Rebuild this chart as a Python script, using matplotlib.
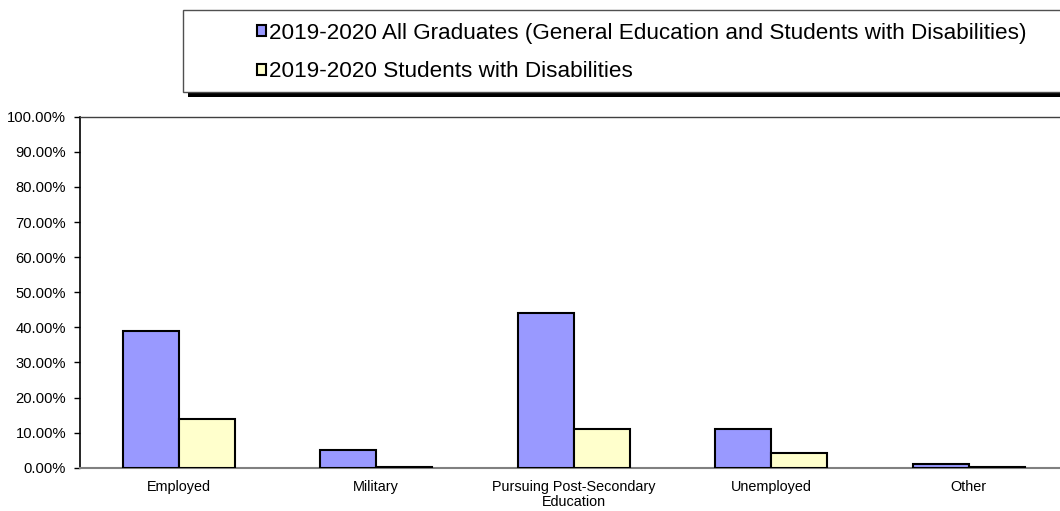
import matplotlib
matplotlib.use("Agg")
import matplotlib.pyplot as plt
from matplotlib.patches import Rectangle, Patch
from matplotlib.ticker import PercentFormatter, MultipleLocator
import numpy as np

plt.rcParams["font.family"] = ["Liberation Sans", "DejaVu Sans"]

# --- dados ---
categorias = ["Employed", "Military", "Pursuing Post-Secondary\nEducation", "Unemployed", "Other"]
todos = [39.0, 5.0, 44.0, 11.0, 1.0]
deficiencia = [14.0, 0.3, 11.0, 4.2, 0.3]
rotulos = ["2019-2020 All Graduates (General Education and Students with Disabilities)",
           "2019-2020 Students with Disabilities"]
cor_azul = "#9999FF"
cor_amarela = "#FFFFCC"

W, H = 1060, 511
fig = plt.figure(figsize=(W / 100, H / 100), dpi=100)
ax = fig.add_axes([80 / W, (H - 467.7) / H, 987.5 / W, 351 / H])

x = np.arange(len(categorias))
larg = 0.284
ax.bar(x - larg / 2, todos, larg, color=cor_azul, edgecolor="black", linewidth=1.5, zorder=3)
ax.bar(x + larg / 2, deficiencia, larg, color=cor_amarela, edgecolor="black", linewidth=1.5, zorder=3)

ax.set_xlim(-0.5, len(categorias) - 0.5)
ax.set_ylim(0, 100)
ax.yaxis.set_major_locator(MultipleLocator(10))
ax.yaxis.set_major_formatter(PercentFormatter(xmax=100, decimals=2))
ax.set_xticks(x)
ax.set_xticklabels(categorias, fontsize=10.4, linespacing=1.1)
ax.tick_params(axis="x", length=0, pad=9)
ax.tick_params(axis="y", length=4, width=1, pad=6, labelsize=10.6, direction="out")

ax.spines["left"].set_color("black")
ax.spines["left"].set_linewidth(1.2)
ax.spines["bottom"].set_color("#808080")
ax.spines["bottom"].set_linewidth(1.5)
ax.spines["top"].set_color("#404040")
ax.spines["top"].set_linewidth(1.0)
ax.spines["right"].set_visible(False)

# --- legenda (caixa com sombra) ---
def fx(px):
    return px / W

def fy(py):
    return 1 - py / H

fig.patches.append(Rectangle((fx(188), fy(97)), fx(1100) - fx(188), fy(15) - fy(97),
                             transform=fig.transFigure, facecolor="black", edgecolor="none"))
fig.patches.append(Rectangle((fx(183), fy(92)), fx(1095) - fx(183), fy(10) - fy(92),
                             transform=fig.transFigure, facecolor="white", edgecolor="#505050",
                             linewidth=1.0))

alcas = [Patch(facecolor=cor_azul, edgecolor="black", linewidth=1.5),
         Patch(facecolor=cor_amarela, edgecolor="black", linewidth=1.5)]
fig.legend(alcas, rotulos, loc="center left", bbox_to_anchor=(fx(257), fy(52.5)),
           frameon=False, fontsize=16.2, handlelength=0.4, handleheight=0.4,
           handletextpad=0.15, labelspacing=0.78, borderpad=0, borderaxespad=0)

fig.savefig("out.png", dpi=100)
